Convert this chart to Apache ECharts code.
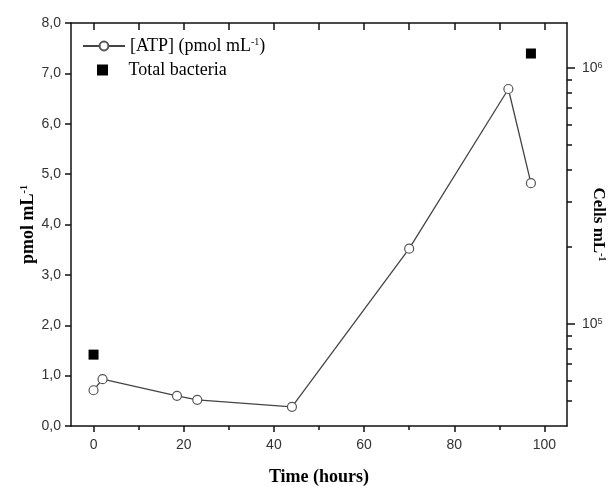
<!DOCTYPE html>
<html>
<head>
<meta charset="utf-8">
<script src="https://cdn.jsdelivr.net/npm/echarts@6/dist/echarts.min.js"></script>
<style>
html,body{margin:0;padding:0;background:#fff;}
#chart{width:610px;height:486px;}
</style>
</head>
<body>
<div id="chart"></div>
<script>
// ---- data ----
var atpTime   = [0, 2, 18.5, 23, 44, 70, 92, 97];
var atpValues = [0.71, 0.93, 0.60, 0.52, 0.38, 3.52, 6.69, 4.82];
var bactTime   = [0, 97];
var bactValues = [76000, 1140000];
var xMajorTicks = [0, 20, 40, 60, 80, 100];
var xMinorTicks = [10, 30, 50, 70, 90];
var xTopTicks = [0, 10, 20, 30, 40, 50, 60, 70, 80, 90, 100];
var logMajorTicks = [100000, 1000000];
var logMinorTicks = [50000, 60000, 70000, 80000, 90000, 200000, 300000, 400000, 500000, 600000, 700000, 800000, 900000];

var atpData = atpTime.map(function (t, i) { return [t, atpValues[i]]; });
var bactData = bactTime.map(function (t, i) { return [t, bactValues[i]]; });

var axisColor = '#111';
var labelFont = { fontFamily: 'Liberation Sans', fontSize: 14, color: '#333' };
var serif = 'Liberation Serif';
var supStyle = { fontFamily: serif, fontSize: 10, fontWeight: 'bold', verticalAlign: 'top', color: '#000' };

var chart = echarts.init(document.getElementById('chart'), null, { renderer: 'canvas' });
chart.setOption({
  animation: false,
  backgroundColor: '#fff',
  grid: { left: 71, top: 23, right: 43, bottom: 60, containLabel: false, outerBoundsMode: 'none' },
  legend: [{
    data: ['ATP'],
    left: 77, top: 32, padding: 5,
    orient: 'vertical',
    itemWidth: 42, itemHeight: 11,
    formatter: function () { return '[ATP] (pmol mL{sup|-1})'; },
    textStyle: { fontFamily: serif, fontSize: 18, color: '#000',
      rich: { sup: { fontFamily: serif, fontSize: 10, verticalAlign: 'top', color: '#000' } } }
  }, {
    data: [{ name: 'Total bacteria', icon: 'path://M0 0H10V10H0Z' }],
    left: 92, top: 56, padding: 5,
    orient: 'vertical',
    itemWidth: 42, itemHeight: 11,
    symbolKeepAspect: true,
    textStyle: { fontFamily: serif, fontSize: 18, color: '#000' }
  }],
  xAxis: [{
    type: 'value', position: 'bottom', min: -5, max: 105,
    name: 'Time (hours)', nameLocation: 'middle', nameGap: 42, nameMoveOverlap: false,
    nameTextStyle: { fontFamily: serif, fontSize: 18, fontWeight: 'bold', color: '#000' },
    axisLine: { show: true, onZero: false, lineStyle: { color: axisColor, width: 1.5 } },
    axisTick: { show: true, inside: false, length: 6, customValues: xMajorTicks, lineStyle: { color: axisColor, width: 1.5 } },
    axisLabel: Object.assign({ customValues: xMajorTicks, margin: 12 }, labelFont),
    splitLine: { show: false }
  }, {
    type: 'value', position: 'bottom', min: -5, max: 105,
    axisLine: { show: false, onZero: false },
    axisTick: { show: true, inside: false, length: 4, customValues: xMinorTicks, lineStyle: { color: axisColor, width: 1.5 } },
    axisLabel: { show: false },
    splitLine: { show: false }
  }, {
    type: 'value', position: 'top', min: -5, max: 105,
    axisLine: { show: true, onZero: false, lineStyle: { color: axisColor, width: 1.5 } },
    axisTick: { show: true, inside: true, length: 7, customValues: xTopTicks, lineStyle: { color: axisColor, width: 1.5 } },
    axisLabel: { show: false },
    splitLine: { show: false }
  }],
  yAxis: [{
    type: 'value', position: 'left', min: 0, max: 8, interval: 1,
    name: 'pmol mL{sup|-1}', nameLocation: 'middle', nameGap: 34, nameMoveOverlap: false,
    nameTextStyle: { fontFamily: serif, fontSize: 18, fontWeight: 'bold', color: '#000', rich: { sup: supStyle } },
    axisLine: { show: true, onZero: false, lineStyle: { color: axisColor, width: 1.5 } },
    axisTick: { show: true, inside: false, length: 6, lineStyle: { color: axisColor, width: 1.5 } },
    axisLabel: Object.assign({ margin: 10, formatter: function (v) { return v.toFixed(1).replace('.', ','); } }, labelFont),
    splitLine: { show: false }
  }, {
    type: 'log', position: 'right', min: 40000, max: 1500000, logBase: 10,
    name: 'Cells mL{sup|-1}', nameLocation: 'middle', nameGap: 23, nameRotate: -90, nameMoveOverlap: false,
    nameTextStyle: { fontFamily: serif, fontSize: 17, fontWeight: 'bold', color: '#000', rich: { sup: supStyle } },
    axisLine: { show: true, onZero: false, lineStyle: { color: axisColor, width: 1.5 } },
    axisTick: { show: true, inside: false, length: 8, customValues: logMajorTicks, lineStyle: { color: axisColor, width: 1.5 } },
    axisLabel: Object.assign({ customValues: logMajorTicks, margin: 15,
      formatter: function (v) { return '10{sup|' + Math.round(Math.log10(v)) + '}'; },
      rich: { sup: { fontFamily: 'Liberation Sans', fontSize: 9, verticalAlign: 'top', color: '#333' } } }, labelFont),
    splitLine: { show: false }
  }, {
    type: 'log', position: 'right', min: 40000, max: 1500000, logBase: 10,
    axisLine: { show: false, onZero: false },
    axisTick: { show: true, inside: false, length: 5, customValues: logMinorTicks, lineStyle: { color: axisColor, width: 1.5 } },
    axisLabel: { show: false },
    splitLine: { show: false }
  }],
  series: [{
    name: 'ATP', type: 'line', xAxisIndex: 0, yAxisIndex: 0,
    data: atpData,
    symbol: 'circle', symbolSize: 9,
    lineStyle: { color: '#444', width: 1.3 },
    itemStyle: { color: '#fff', borderColor: '#555', borderWidth: 1.2 },
    z: 3
  }, {
    name: 'Total bacteria', type: 'scatter', xAxisIndex: 0, yAxisIndex: 1,
    data: bactData,
    symbol: 'rect', symbolSize: 10,
    itemStyle: { color: '#000', opacity: 1 },
    z: 4
  }]
});
</script>
</body>
</html>
